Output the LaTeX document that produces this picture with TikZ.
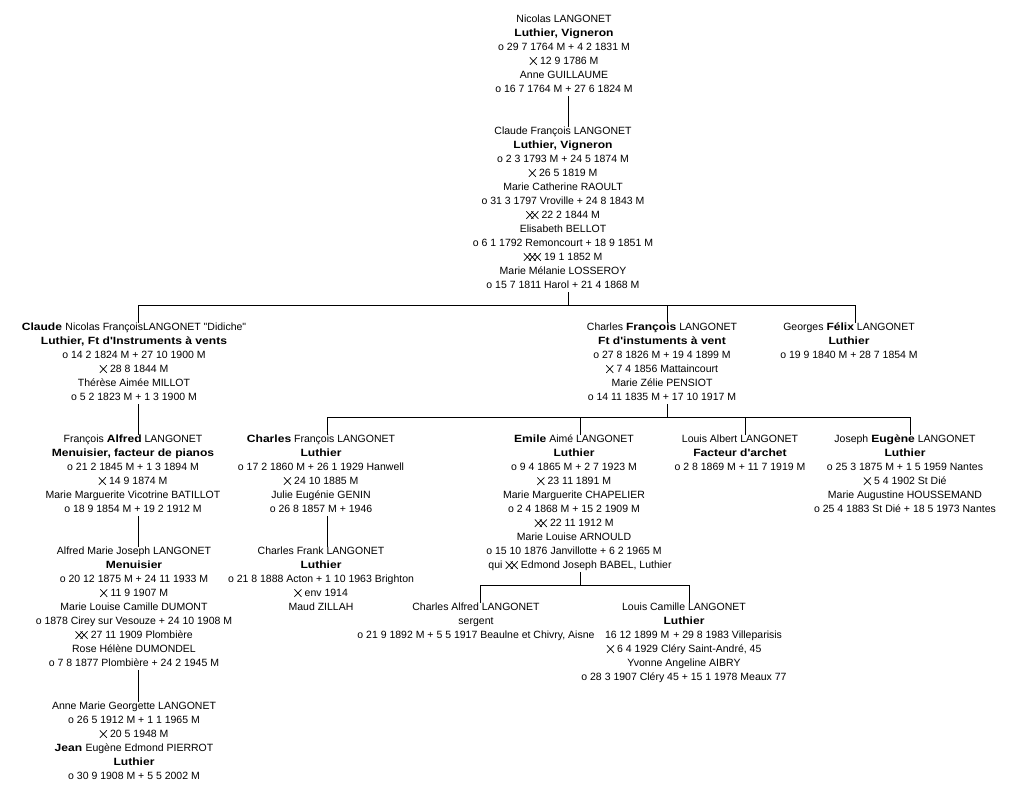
\documentclass[tikz,border=0pt]{standalone}
\usepackage{fontspec}
\setmainfont{Liberation Sans}[Ligatures=TeXOff, BoldFeatures={FakeStretch=1.15}]
\newcommand{\mxs}[1]{\tikz[baseline=0pt]{\foreach \i in {1,...,#1}{\draw[line width=0.7pt] ({(\i-1)*5pt},0pt)--({(\i-1)*5pt+7pt},7.5pt) ({(\i-1)*5pt},7.5pt)--({(\i-1)*5pt+7pt},0pt);}}}
\tikzset{
  person/.style={align=center, inner sep=0pt, anchor=north, yshift=-2pt,
    font=\fontsize{10.5}{14}\selectfont,
    execute at begin node={\rule{0pt}{10pt}}, text depth=3pt},
  link/.style={line width=1pt, black}
}
\begin{document}
\begin{tikzpicture}[x=1pt,y=-1pt]
\fill[white] (0,0) rectangle (1009,788);
\useasboundingbox (0,0) rectangle (1009,788);

% connector x positions and bar heights
\coordinate (xa) at (568,0);
\coordinate (xc) at (138,0);
\coordinate (xd) at (667,0);
\coordinate (xe) at (855,0);
\coordinate (xi) at (327,0);
\coordinate (xk) at (580,0);
\coordinate (xn) at (745,0);
\coordinate (xo) at (910,0);
\coordinate (xl) at (480,0);
\coordinate (xm) at (689,0);
\coordinate (bar1) at (0,305);
\coordinate (bar2) at (0,417);
\coordinate (bar3) at (0,585);

\node[person] (A) at (564,13) {Nicolas LANGONET\\
\textbf{Luthier, Vigneron}\\
o 29 7 1764 M + 4 2 1831 M\\
\mxs{1} 12 9 1786 M\\
Anne GUILLAUME\\
o 16 7 1764 M + 27 6 1824 M};

\node[person] (B) at (563,125) {Claude François LANGONET\\
\textbf{Luthier, Vigneron}\\
o 2 3 1793 M + 24 5 1874 M\\
\mxs{1} 26 5 1819 M\\
Marie Catherine RAOULT\\
o 31 3 1797 Vroville + 24 8 1843 M\\
\mxs{2} 22 2 1844 M\\
Elisabeth BELLOT\\
o 6 1 1792 Remoncourt + 18 9 1851 M\\
\mxs{3} 19 1 1852 M\\
Marie Mélanie LOSSEROY\\
o 15 7 1811 Harol + 21 4 1868 M};

\node[person] (C) at (134,321) {\textbf{Claude\ }Nicolas FrançoisLANGONET "Didiche"\\
\textbf{Luthier, Ft d'Instruments à vents}\\
o 14 2 1824 M + 27 10 1900 M\\
\mxs{1} 28 8 1844 M\\
Thérèse Aimée MILLOT\\
o 5 2 1823 M + 1 3 1900 M};

\node[person] (D) at (662,321) {Charles \textbf{François} LANGONET\\
\textbf{Ft d'instuments à vent}\\
o 27 8 1826 M + 19 4 1899 M\\
\mxs{1} 7 4 1856 Mattaincourt\\
Marie Zélie PENSIOT\\
o 14 11 1835 M + 17 10 1917 M};

\node[person] (E) at (849,321) {Georges \textbf{Félix} LANGONET\\
\textbf{Luthier}\\
o 19 9 1840 M + 28 7 1854 M};

\node[person] (F) at (133,433) {François \textbf{Alfred} LANGONET\\
\textbf{Menuisier, facteur de pianos}\\
o 21 2 1845 M + 1 3 1894 M\\
\mxs{1} 14 9 1874 M\hspace*{15pt}\\
Marie Marguerite Vicotrine BATILLOT\\
o 18 9 1854 M + 19 2 1912 M};

\node[person] (I) at (321,433) {\textbf{Charles} François LANGONET\\
\textbf{Luthier}\\
o 17 2 1860 M + 26 1 1929 Hanwell\\
\mxs{1} 24 10 1885 M\\
Julie Eugénie GENIN\\
o 26 8 1857 M + 1946};

\node[person] (K) at (574,433) {\textbf{Emile} Aimé LANGONET\\
\textbf{Luthier}\\
o 9 4 1865 M + 2 7 1923 M\\
\mxs{1} 23 11 1891 M\\
Marie Marguerite CHAPELIER\\
o 2 4 1868 M + 15 2 1909 M\\
\mxs{2} 22 11 1912 M\\
Marie Louise ARNOULD\\
o 15 10 1876 Janvillotte + 6 2 1965 M\\
\hspace*{12pt}qui \mxs{2} Edmond Joseph BABEL, Luthier};

\node[person] (N) at (740,433) {Louis Albert LANGONET\\
\textbf{Facteur d'archet}\\
o 2 8 1869 M + 11 7 1919 M};

\node[person] (O) at (905,433) {Joseph \textbf{Eugène} LANGONET\\
\textbf{Luthier}\\
o 25 3 1875 M + 1 5 1959 Nantes\\
\mxs{1} 5 4 1902 St Dié\\
Marie Augustine HOUSSEMAND\\
o 25 4 1883 St Dié + 18 5 1973 Nantes};

\node[person] (G) at (134,545) {Alfred Marie Joseph LANGONET\\
\textbf{Menuisier}\\
o 20 12 1875 M + 24 11 1933 M\\
\mxs{1} 11 9 1907 M\\
Marie Louise Camille DUMONT\\
o 1878 Cirey sur Vesouze + 24 10 1908 M\\
\mxs{2} 27 11 1909 Plombière\\
Rose Hélène DUMONDEL\\
o 7 8 1877 Plombière + 24 2 1945 M};

\node[person] (J) at (321,545) {Charles Frank LANGONET\\
\textbf{Luthier}\\
o 21 8 1888 Acton + 1 10 1963 Brighton\\
\mxs{1} env 1914\\
Maud ZILLAH};

\node[person] (L) at (476,601) {Charles Alfred LANGONET\\
sergent\\
o 21 9 1892 M + 5 5 1917 Beaulne et Chivry, Aisne};

\node[person] (M) at (684,601) {Louis Camille LANGONET\\
\textbf{Luthier}\\
\hspace*{19pt}16 12 1899 M\hspace{4pt}+ 29 8 1983 Villeparisis\\
\mxs{1} 6 4 1929 Cléry Saint-André, 45\\
Yvonne Angeline AIBRY\\
o 28 3 1907 Cléry 45 + 15 1 1978 Meaux 77};

\node[person] (H) at (134,700) {Anne Marie Georgette LANGONET\\
o 26 5 1912 M + 1 1 1965 M\\
\mxs{1} 20 5 1948 M\\
\textbf{Jean\ }Eugène Edmond PIERROT\\
\textbf{Luthier}\\
o 30 9 1908 M + 5 5 2002 M};

% connectors
\draw[link] (A.south -| xa) -- (B.north -| xa);
\draw[link] (B.south -| xa) -- (bar1 -| xa);
\draw[link] (C.north -| xc) |- (bar1 -| xe) -- (E.north -| xe);
\draw[link] (D.north -| xd) -- (bar1 -| xd);
\draw[link] (C.south -| xc) -- (F.north -| xc);
\draw[link] (F.south -| xc) -- (G.north -| xc);
\draw[link] (G.south -| xc) -- (H.north -| xc);
\draw[link] (D.south -| xd) -- (bar2 -| xd);
\draw[link] (I.north -| xi) |- (bar2 -| xo) -- (O.north -| xo);
\draw[link] (K.north -| xk) -- (bar2 -| xk);
\draw[link] (N.north -| xn) -- (bar2 -| xn);
\draw[link] (I.south -| xi) -- (J.north -| xi);
\draw[link] (K.south -| xk) -- (bar3 -| xk);
\draw[link] (L.north -| xl) |- (bar3 -| xm) -- (M.north -| xm);
\end{tikzpicture}
\end{document}
